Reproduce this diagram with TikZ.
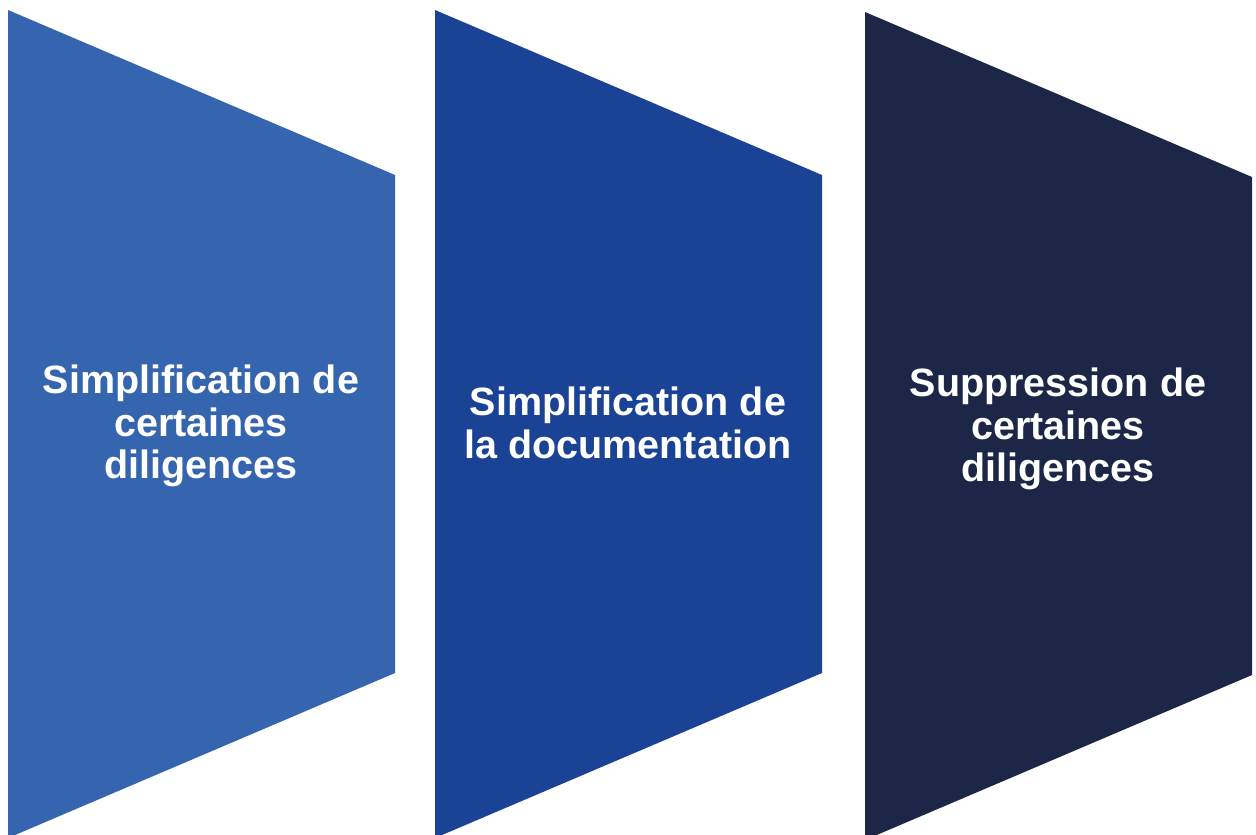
\documentclass[tikz,border=0pt]{standalone}
\usepackage{fontspec}
\setmainfont{Liberation Sans}
\definecolor{cA}{HTML}{3465AE}
\definecolor{cB}{HTML}{1A4295}
\definecolor{cC}{HTML}{1C2748}
\begin{document}
\begin{tikzpicture}[x=1pt,y=-1pt,
  lbl/.style={text=white,font=\bfseries\fontsize{39.5}{42.5}\selectfont,align=center,inner sep=0pt}]
\useasboundingbox (0,0) rectangle (1256,835);
\begin{scope}
\clip (0,0) rectangle (1256,835);
\fill[cA] (8,10) -- (395,175) -- (395,673) -- (8,838) -- cycle;
\fill[cB] (435,10) -- (822,175) -- (822,673) -- (435,838) -- cycle;
\fill[cC] (865,12) -- (1252,177) -- (1252,675) -- (865,840) -- cycle;
\end{scope}
\node[lbl] (t1) at (201,426) {Simplification de\\certaines\\diligences};
\node[lbl] (t2) at (628,423) {Simplification de\\la documentation};
\node[lbl] (t3) at (1058,429) {Suppression de\\certaines\\diligences};
\end{tikzpicture}
\end{document}
